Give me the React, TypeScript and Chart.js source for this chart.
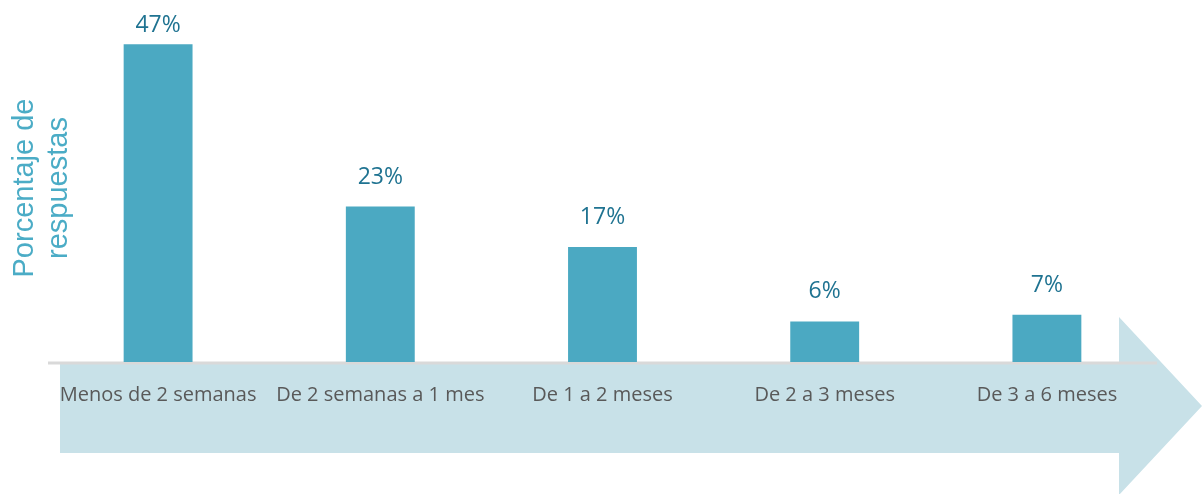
import React, { useEffect, useRef } from "react";
import { Chart, registerables } from "chart.js";

Chart.register(...registerables);

const categories = [
  "Menos de 2 semanas",
  "De 2 semanas a 1 mes",
  "De 1 a 2 meses",
  "De 2 a 3 meses",
  "De 3 a 6 meses",
];
const percentages = [47, 23, 17, 6, 7];
const yTitleLines = ["Porcentaje de", "respuestas"];

const BAR_COLOR = "#4BA9C2";
const VALUE_COLOR = "#1F7391";
const TITLE_COLOR = "#4BACC6";
const ARROW_COLOR = "#C8E1E8";
const LABEL_COLOR = "#595959";
const AXIS_COLOR = "#D9D9D9";

const decorPlugin = {
  id: "decor",
  beforeDraw(chart: any) {
    const { ctx, chartArea, width, height } = chart;
    const base = chartArea.bottom;
    ctx.save();
    // arrow background
    const left = chartArea.left + 13;
    const bodyTop = base + 2;
    const bodyBottom = base + 91;
    const headX = chartArea.right - 39;
    const headTop = base - 45;
    const headBottom = height + 1;
    const tipX = width;
    const tipY = (headTop + headBottom) / 2;
    ctx.fillStyle = ARROW_COLOR;
    ctx.beginPath();
    ctx.moveTo(left, bodyTop);
    ctx.lineTo(headX, bodyTop);
    ctx.lineTo(headX, headTop);
    ctx.lineTo(tipX, tipY);
    ctx.lineTo(headX, headBottom);
    ctx.lineTo(headX, bodyBottom);
    ctx.lineTo(left, bodyBottom);
    ctx.closePath();
    ctx.fill();
    // axis line
    ctx.strokeStyle = AXIS_COLOR;
    ctx.lineWidth = 3;
    ctx.beginPath();
    ctx.moveTo(chartArea.left + 1, base + 1);
    ctx.lineTo(chartArea.right - 1, base + 1);
    ctx.stroke();
    // y title
    ctx.fillStyle = TITLE_COLOR;
    ctx.font = "29px 'Liberation Sans', Arial, sans-serif";
    ctx.textAlign = "center";
    ctx.textBaseline = "alphabetic";
    const cy = 188;
    yTitleLines.forEach((line, i) => {
      ctx.save();
      ctx.translate(33 + i * 34, cy);
      ctx.rotate(-Math.PI / 2);
      ctx.fillText(line, 0, 0);
      ctx.restore();
    });
    ctx.restore();
  },
  afterDatasetsDraw(chart: any) {
    const { ctx, chartArea } = chart;
    const meta = chart.getDatasetMeta(0);
    ctx.save();
    ctx.fillStyle = VALUE_COLOR;
    ctx.font = "23px 'Open Sans', sans-serif";
    ctx.textAlign = "center";
    ctx.textBaseline = "alphabetic";
    meta.data.forEach((bar: any, i: number) => {
      const y = Math.max(bar.y - 23, chartArea.top + 8);
      ctx.fillText(percentages[i] + "%", bar.x, y);
    });
    ctx.restore();
  },
};

export default function App() {
  const ref = useRef<HTMLCanvasElement>(null);
  useEffect(() => {
    if (!ref.current) return;
    const chart = new Chart(ref.current, {
      type: "bar",
      data: {
        labels: categories,
        datasets: [
          {
            data: percentages,
            backgroundColor: BAR_COLOR,
            barPercentage: 0.62,
            categoryPercentage: 0.5,
          },
        ],
      },
      options: {
        animation: false,
        responsive: false,
        maintainAspectRatio: false,
        layout: { padding: { left: 47, right: 44, top: 24, bottom: 66 } },
        plugins: { legend: { display: false }, tooltip: { enabled: false } },
        scales: {
          y: { display: false, min: 0, max: 50 },
          x: {
            grid: { display: false, drawTicks: false },
            border: { display: false },
            ticks: {
              color: LABEL_COLOR,
              font: { family: "'Open Sans', sans-serif", size: 20 },
              padding: 21,
              maxRotation: 0,
              autoSkip: false,
            },
          },
        },
      },
      plugins: [decorPlugin],
    });
    return () => chart.destroy();
  }, []);
  return (
    <div style={{ position: "absolute", left: 0, top: 0, width: 1202, height: 494, background: "#fff" }}>
      <canvas ref={ref} width={1202} height={494} />
    </div>
  );
}
